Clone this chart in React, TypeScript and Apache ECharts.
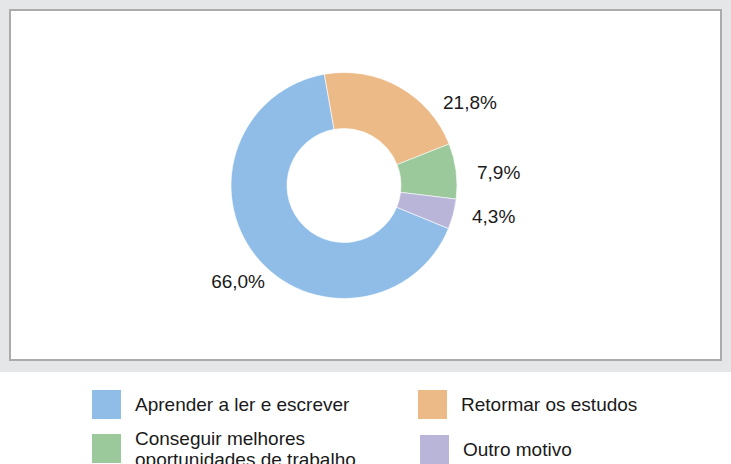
import React, { useEffect, useRef } from "react";
import * as echarts from "echarts";

const categories = [
  "Aprender a ler e escrever",
  "Retormar os estudos",
  "Conseguir melhores oportunidades de trabalho",
  "Outro motivo",
];
const values = [66.0, 21.8, 7.9, 4.3];
const colors = ["#8fbde8", "#ecba86", "#9bc99c", "#b8b5d9"];

const legendPlacement = [
  { left: 90, top: 388 },
  { left: 416, top: 388 },
  { left: 90, top: 427.5 },
  { left: 418, top: 433 },
];

const labelPlacement = [
  { x: 265, y: 281, align: "right" },
  { x: 443, y: 102, align: "left" },
  { x: 477, y: 172, align: "left" },
  { x: 472, y: 216, align: "left" },
];

const FONT = "'Liberation Sans', Arial, sans-serif";

export default function App() {
  const ref = useRef<HTMLDivElement>(null);
  useEffect(() => {
    if (!ref.current) return;
    const chart = echarts.init(ref.current, null, { renderer: "svg" });
    chart.setOption({
      animation: false,
      backgroundColor: "#ffffff",
      graphic: [
        {
          type: "rect",
          shape: { x: 0, y: 0, width: 731, height: 372 },
          style: { fill: "#e5e6e8" },
          z: -10,
          silent: true,
        },
        {
          type: "rect",
          shape: { x: 10, y: 10, width: 711, height: 350 },
          style: { fill: "#ffffff", stroke: "#ababab", lineWidth: 2 },
          z: -9,
          silent: true,
        },
      ],
      legend: categories.map((name, i) => ({
        orient: "vertical",
        left: legendPlacement[i].left,
        top: legendPlacement[i].top,
        padding: 0,
        itemWidth: 31,
        itemHeight: 31,
        icon: "rect",
        selectedMode: false,
        data: [name],
        textStyle: {
          fontFamily: FONT,
          fontSize: 19,
          color: "#1a1a1a",
          lineHeight: 21,
          padding: [0, 0, 0, 8],
        },
        formatter: (n: string) =>
          n === categories[2] ? "Conseguir melhores\noportunidades de trabalho" : n,
      })),
      series: [
        {
          type: "pie",
          center: [344, 185.5],
          radius: [57, 113],
          startAngle: 337.6,
          clockwise: true,
          avoidLabelOverlap: false,
          itemStyle: { borderColor: "#ffffff", borderWidth: 0.6 },
          label: {
            show: true,
            position: "outside",
            fontFamily: FONT,
            fontSize: 19,
            color: "#1a1a1a",
            formatter: (p: any) => p.value.toFixed(1).replace(".", ",") + "%",
          },
          labelLine: { show: false },
          labelLayout: (p: any) => {
            const l = labelPlacement[p.dataIndex];
            return { x: l.x, y: l.y, align: l.align, verticalAlign: "middle" };
          },
          emphasis: { disabled: true },
          data: categories.map((name, i) => ({
            name,
            value: values[i],
            itemStyle: { color: colors[i] },
          })),
        },
      ],
    });
    return () => chart.dispose();
  }, []);
  return (
    <div
      ref={ref}
      style={{ position: "fixed", left: 0, top: 0, width: 731, height: 464 }}
    />
  );
}
